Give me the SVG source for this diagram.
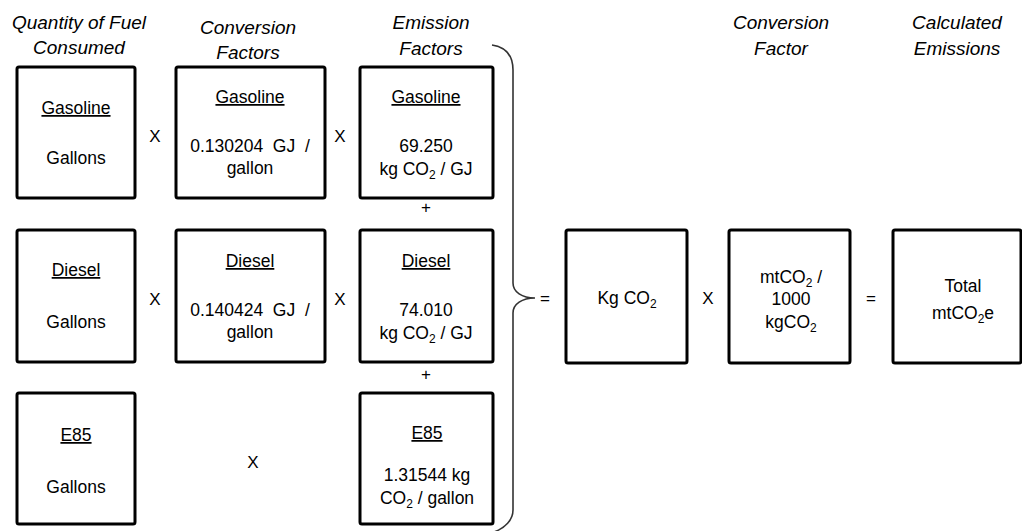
<svg xmlns="http://www.w3.org/2000/svg" width="1022" height="531" viewBox="0 0 1022 531">
<style>
.box{fill:#fff;stroke:#000;stroke-width:3;}
.t{font-family:"Liberation Sans",Arial,sans-serif;font-size:17.5px;fill:#000;text-anchor:middle;}
.h{font-family:"Liberation Sans",Arial,sans-serif;font-size:19px;font-style:italic;fill:#000;text-anchor:middle;}
.u{text-decoration:underline;}
.op{font-family:"Liberation Sans",Arial,sans-serif;font-size:17px;fill:#000;text-anchor:middle;}
.s{font-size:12px;}
.br{fill:none;stroke:#333;stroke-width:1.6;}
</style>
<rect width="1022" height="531" fill="#fff"/>
<g id="headers">
<text class="h" x="79" y="29">Quantity of Fuel</text>
<text class="h" x="79" y="54">Consumed</text>
<text class="h" x="248" y="34">Conversion</text>
<text class="h" x="248" y="59">Factors</text>
<text class="h" x="431" y="29">Emission</text>
<text class="h" x="431" y="55">Factors</text>
<text class="h" x="781" y="29">Conversion</text>
<text class="h" x="781" y="55">Factor</text>
<text class="h" x="957" y="29">Calculated</text>
<text class="h" x="957" y="55">Emissions</text>
</g>
<g id="gas-qty"><rect class="box" x="17" y="67" width="118" height="131" rx="2"/>
<text class="t u" x="76" y="114">Gasoline</text><text class="t" x="76" y="164">Gallons</text></g>
<g id="gas-conv"><rect class="box" x="176" y="67" width="149" height="131" rx="2"/>
<text class="t u" x="250" y="103">Gasoline</text><text class="t" x="250" y="152" xml:space="preserve">0.130204  GJ  /</text><text class="t" x="250" y="174">gallon</text></g>
<g id="gas-ef"><rect class="box" x="360" y="67" width="133" height="131" rx="2"/>
<text class="t u" x="426" y="103">Gasoline</text><text class="t" x="426" y="152">69.250</text><text class="t" x="426" y="175">kg CO<tspan class="s" dy="4">2</tspan><tspan dy="-4"> / GJ</tspan></text></g>
<g id="die-qty"><rect class="box" x="17" y="230" width="118" height="132" rx="2"/>
<text class="t u" x="76" y="276">Diesel</text><text class="t" x="76" y="328">Gallons</text></g>
<g id="die-conv"><rect class="box" x="176" y="230" width="149" height="132" rx="2"/>
<text class="t u" x="250" y="267">Diesel</text><text class="t" x="250" y="316" xml:space="preserve">0.140424  GJ  /</text><text class="t" x="250" y="338">gallon</text></g>
<g id="die-ef"><rect class="box" x="360" y="230" width="133" height="132" rx="2"/>
<text class="t u" x="426" y="267">Diesel</text><text class="t" x="426" y="316">74.010</text><text class="t" x="426" y="339">kg CO<tspan class="s" dy="4">2</tspan><tspan dy="-4"> / GJ</tspan></text></g>
<g id="e85-qty"><rect class="box" x="17" y="393" width="118" height="131" rx="2"/>
<text class="t u" x="76" y="441">E85</text><text class="t" x="76" y="493">Gallons</text></g>
<g id="e85-ef"><rect class="box" x="360" y="393" width="133" height="131" rx="2"/>
<text class="t u" x="427" y="439">E85</text><text class="t" x="427" y="481">1.31544 kg</text><text class="t" x="427" y="504">CO<tspan class="s" dy="4">2</tspan><tspan dy="-4"> / gallon</tspan></text></g>
<g id="kgco2"><rect class="box" x="566" y="230" width="121" height="133" rx="2"/>
<text class="t" x="627" y="304">Kg CO<tspan class="s" dy="4">2</tspan></text></g>
<g id="factor"><rect class="box" x="729" y="230" width="121" height="133" rx="2"/>
<text class="t" x="791" y="283">mtCO<tspan class="s" dy="4">2</tspan><tspan dy="-4"> /</tspan></text><text class="t" x="791" y="305">1000</text><text class="t" x="791" y="328">kgCO<tspan class="s" dy="4">2</tspan></text></g>
<g id="total"><rect class="box" x="893" y="230" width="128" height="133" rx="2"/>
<text class="t" x="963" y="292">Total</text><text class="t" x="963" y="319">mtCO<tspan class="s" dy="4">2</tspan><tspan dy="-4">e</tspan></text></g>
<g id="connectors">
<path class="br" d="M492,45 C505,47 513,55 513,70 L513,283 C513,292 522,298 535,298 C522,298 513,304 513,313 L513,510 C513,520 505,528 494,532"/>
<text class="op" x="155" y="142">X</text>
<text class="op" x="340" y="142">X</text>
<text class="op" x="155" y="305">X</text>
<text class="op" x="340" y="305">X</text>
<text class="op" x="253" y="468">X</text>
<text class="op" x="426" y="213" font-size="13">+</text>
<text class="op" x="426" y="380" font-size="13">+</text>
<text class="op" x="545" y="304">=</text>
<text class="op" x="708" y="304">X</text>
<text class="op" x="871" y="304">=</text>
</g>
</svg>
